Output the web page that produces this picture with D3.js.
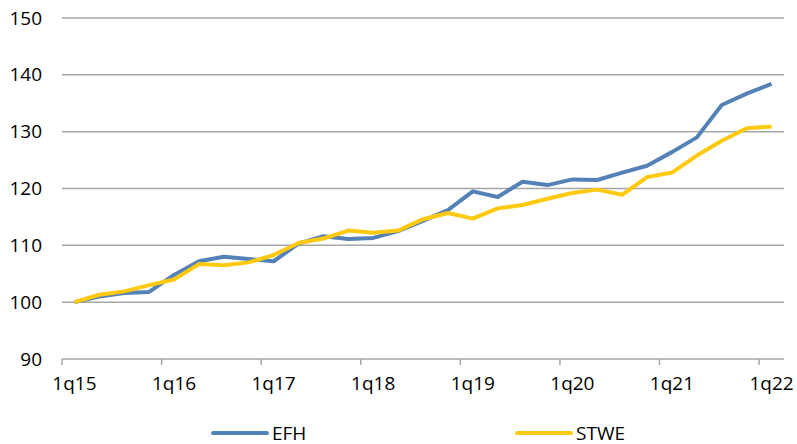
<!DOCTYPE html>
<html>
<head>
<meta charset="utf-8">
<script src="https://cdn.jsdelivr.net/npm/d3@7"></script>
<style>
  body { margin: 0; background: #fff; }
  text { font-family: "Open Sans", sans-serif; fill: #000; }
</style>
</head>
<body>
<div id="chart"></div>
<script>
const width = 797;
const height = 444;

// quarters 1q15 .. 1q22
const quarters = [];
for (let y = 15; y <= 22; y++) {
    for (let q = 1; q <= 4; q++) {
        if (y === 22 && q > 1) break;
        quarters.push(q + "q" + y);
    }
}

const efh = [100, 101.0, 101.6, 101.8, 104.8, 107.2, 108.0, 107.6, 107.2, 110.3,
    111.6, 111.1, 111.3, 112.5, 114.3, 116.2, 119.5, 118.5, 121.2, 120.6,
    121.6, 121.5, 122.8, 124.0, 126.4, 129.0, 134.7, 136.7, 138.4];
const stwe = [100, 101.3, 101.9, 103.0, 104.0, 106.7, 106.5, 107.0, 108.3, 110.4,
    111.2, 112.6, 112.2, 112.6, 114.6, 115.7, 114.7, 116.5, 117.1, 118.2,
    119.2, 119.8, 118.9, 122.0, 122.8, 125.8, 128.4, 130.6, 130.9];
const yTicks = [90, 100, 110, 120, 130, 140, 150];

const series = [
    { name: "EFH", values: efh, color: "#5482b6" },
    { name: "STWE", values: stwe, color: "#ffc90f" }
];

const margin = { top: 18, left: 62, bottom: 85, right: 13 };

const xScale = d3.scaleBand()
    .domain(quarters)
    .range([margin.left, width - margin.right])
    .padding(0);

const yScale = d3.scaleLinear()
    .domain([90, 150])
    .range([height - margin.bottom, margin.top]);

const svg = d3.select("#chart").append("svg")
    .attr("width", width)
    .attr("height", height);

// gridlines
svg.append("g")
    .selectAll("line")
    .data(yTicks.filter(d => d > 90))
    .join("line")
    .attr("x1", margin.left)
    .attr("x2", width - margin.right)
    .attr("y1", d => yScale(d))
    .attr("y2", d => yScale(d))
    .attr("stroke", "#a6a6a6")
    .attr("stroke-width", 1.5);

// y labels
svg.append("g")
    .selectAll("text")
    .data(yTicks)
    .join("text")
    .attr("x", 42)
    .attr("y", d => yScale(d) + 6.5)
    .attr("text-anchor", "end")
    .style("font-size", "19px")
    .text(d => d);

// x axis line and ticks between categories
const axisY = yScale(90);
svg.append("line")
    .attr("x1", margin.left)
    .attr("x2", width - margin.right)
    .attr("y1", axisY)
    .attr("y2", axisY)
    .attr("stroke", "#a6a6a6")
    .attr("stroke-width", 1.5);

const labelled = quarters.filter((d, i) => i % 4 === 0);

svg.append("g")
    .selectAll("line")
    .data(labelled)
    .join("line")
    .attr("x1", d => xScale(d))
    .attr("x2", d => xScale(d))
    .attr("y1", axisY)
    .attr("y2", axisY + 6)
    .attr("stroke", "#a6a6a6")
    .attr("stroke-width", 1.5);

svg.append("g")
    .selectAll("text")
    .data(labelled)
    .join("text")
    .attr("x", d => xScale(d) + xScale.bandwidth() / 2)
    .attr("y", 390)
    .attr("text-anchor", "middle")
    .style("font-size", "19px")
    .text(d => d);

// lines
const line = d3.line()
    .x((d, i) => xScale(quarters[i]) + xScale.bandwidth() / 2)
    .y(d => yScale(d));

svg.append("g")
    .selectAll("path")
    .data(series)
    .join("path")
    .attr("fill", "none")
    .attr("stroke", d => d.color)
    .attr("stroke-width", 4)
    .attr("stroke-linejoin", "round")
    .attr("d", d => line(d.values));

// legend
const legendX = [213, 517];
const legend = svg.append("g")
    .selectAll("g")
    .data(series)
    .join("g")
    .attr("transform", (d, i) => `translate(${legendX[i]},433)`);

legend.append("line")
    .attr("x1", 0)
    .attr("x2", 54)
    .attr("stroke", d => d.color)
    .attr("stroke-width", 4)
    .attr("stroke-linecap", "round");

legend.append("text")
    .attr("x", 59)
    .attr("y", 6.5)
    .style("font-size", "19px")
    .text(d => d.name);
</script>
</body>
</html>
